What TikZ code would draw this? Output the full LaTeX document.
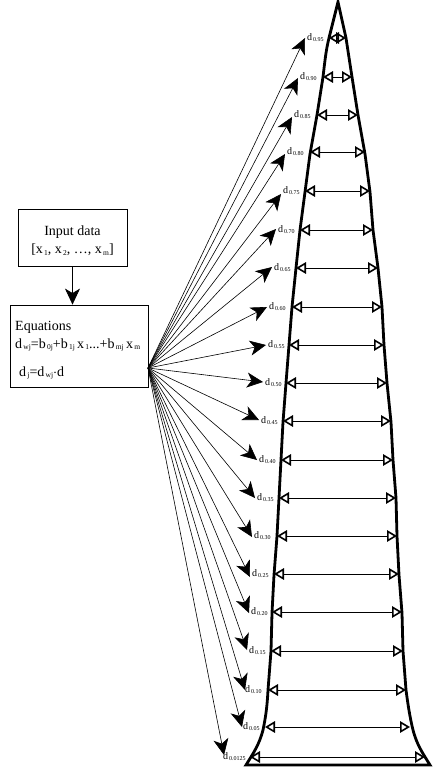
\documentclass[tikz,border=0pt]{standalone}
\usepackage{fontspec}
\setmainfont{Liberation Serif}
\usetikzlibrary{arrows.meta}
\newcommand{\sbs}[1]{\raisebox{-1.5pt}{\fontsize{7.5}{7.5}\selectfont #1}}
\newcommand{\lbsub}[1]{d\raisebox{-1pt}{\fontsize{6}{6}\selectfont\,#1}}
\tikzset{
  box/.style={draw,line width=0.8pt,inner sep=0pt,fill=white},
  outline/.style={line width=2.8pt,line join=miter},
  feed/.style={line width=0.6pt,-{Stealth[length=16pt,width=15pt,inset=4.5pt]}},
  rib/.style={line width=0.7pt,{Triangle[open,length=10pt,width=11.5pt,line width=1.6pt]}-{Triangle[open,length=10pt,width=11.5pt,line width=1.6pt]}},
  lab/.style={anchor=west,inner sep=2pt,font=\fontsize{10}{10}\selectfont},
  eqtext/.style={anchor=west,inner sep=0pt,font=\fontsize{14}{17}\selectfont}
}
\begin{document}
\begin{tikzpicture}[x=1pt,y=-1pt]
\useasboundingbox (0,0) rectangle (443,768);
% tapered outline
\draw[outline] (338,2) -- (329,38) .. controls (326,50) and (325,60) .. (323,77) -- (317,115) -- (310,154) -- (305,192) -- (300,230) -- (296,268) -- (292,307) -- (289,345) -- (286,383) -- (283,422) -- (281,460) -- (279,498) -- (277,536) -- (274,575) -- (272,613) -- (271,651) -- (268,690) .. controls (267,710) and (265,720) .. (263,730) .. controls (259,745) and (254,752) .. (246,765) -- (430,765) .. controls (422,752) and (417,745) .. (413,730) .. controls (410,718) and (408,705) .. (406,690) -- (403,651) -- (402,613) -- (399,575) -- (397,536) -- (396,498) -- (393,460) -- (391,422) -- (387,383) -- (384,345) -- (382,307) -- (378,268) -- (373,230) -- (370,192) -- (365,154) -- (358,115) -- (352,77) -- (346,38) -- cycle;
% boxes
\node[box,minimum width=109pt,minimum height=57pt] (input) at (72.5,237.5) {};
\node[align=center,inner sep=0pt,font=\fontsize{14}{18.5}\selectfont] (inputtext) at (72.5,240.5) {Input data\\{[}x\sbs{\,1}, x\sbs{\,2}, \dots, x\sbs{\,m}{]}};
\node[box,minimum width=138pt,minimum height=82pt] (eq) at (79,346) {};
\node[eqtext] (eqa) at (15,327) {Equations};
\node[eqtext] (eqb) at (15,345) {d\sbs{\,wj}=b\sbs{\,0j}+b\sbs{\,1j}\,x\sbs{\,1}...+b\sbs{\,mj}\,x\sbs{\,m}};
\node[eqtext] (eqc) at (19,373) {d\sbs{\,j}=d\sbs{\,wj}$\cdot$d};
\coordinate (src) at (148,368);
\draw[feed] (input.south) -- (input.south |- eq.north);
% labels, feeder arrows and ribs
\foreach \n/\t/\lx/\ty/\ly/\xl/\xr/\sub in {
 a/305/305/38/38/329/346/0.95, b/298/298/78/77/323/352/0.90, c/292/292/117/115/317/358/0.85, d/285/285/154/152/310/365/0.80,
 e/281/281/194/191/305/370/0.75, f/276/276/229/230/300/373/0.70, g/272/272/267/268/296/378/0.65, h/267/267/307/307/292/382/0.60,
 i/266/266/345/345/289/384/0.55, j/263/263/382/383/286/387/0.50, k/259/259/420/421/283/391/0.45, l/257/257/460/460/281/393/0.40,
 m/255/255/498/498/279/396/0.35, n/252/252/537/536/277/397/0.30, o/250/250/577/574/274/399/0.25, p/249/249/613/612/272/402/0.20,
 q/247/247/650/651/271/403/0.15, r/245/243/690/690/268/406/0.10, s/242/241/727/727/265/410/0.05, t/224/221/755/757/250/425/0.0125}{
  \node[lab] (lab\n) at (\lx,\ly) {\lbsub{\sub}};
  \coordinate (tip\n) at (\t,\ty);
  \draw[feed] (src) -- (tip\n);
  \coordinate (ribl\n) at (\xl,\ly);
  \coordinate (ribr\n) at (\xr,\ly);
  \draw[rib] (ribl\n) -- (ribr\n);
}
\end{tikzpicture}
\end{document}
